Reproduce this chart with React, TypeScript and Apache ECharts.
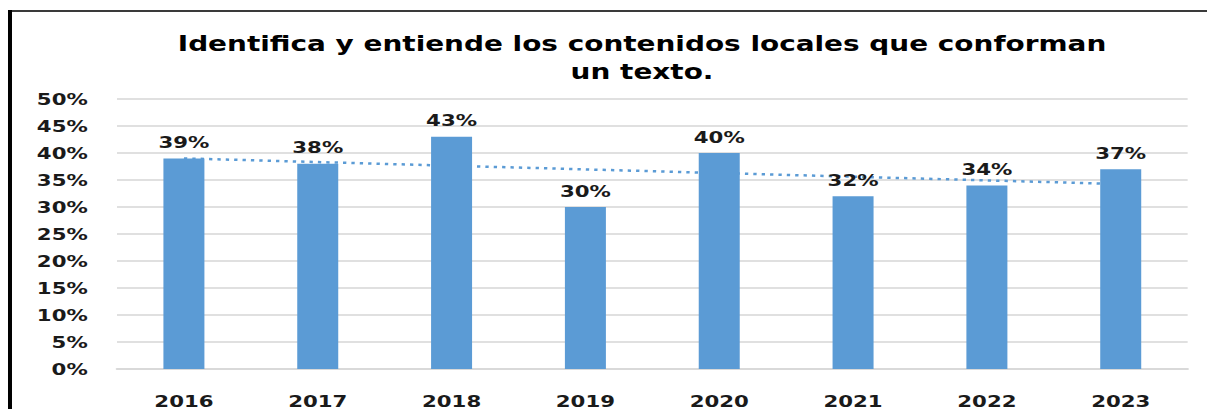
import React, { useEffect, useRef } from "react";
import * as echarts from "echarts";

const titleLines = ["Identifica y entiende los contenidos locales que conforman", "un texto."];
const categories = ["2016", "2017", "2018", "2019", "2020", "2021", "2022", "2023"];
const values = [0.39, 0.38, 0.43, 0.30, 0.40, 0.32, 0.34, 0.37];
const yTicks = { min: 0, max: 0.5, interval: 0.05 };

// Linear trend line (least squares) derived from the bar values, like Excel's trendline
function linearTrend(ys: number[]): number[] {
  const n = ys.length;
  const mx = (n - 1) / 2;
  const my = ys.reduce((a, b) => a + b, 0) / n;
  let sxy = 0, sxx = 0;
  ys.forEach((y, i) => { sxy += (i - mx) * (y - my); sxx += (i - mx) * (i - mx); });
  const slope = sxy / sxx;
  return ys.map((_, i) => my + slope * (i - mx));
}

const SX = 1.33; // the reference image is horizontally stretched
const W = 1207 / SX;
const H = 409;

const FONT = "'DejaVu Sans', Verdana, sans-serif";

export default function App() {
  const ref = useRef<HTMLDivElement>(null);
  useEffect(() => {
    if (!ref.current) return;
    const chart = echarts.init(ref.current, undefined, { renderer: "svg" });
    const pct = (v: number) => Math.round(v * 100) + "%";
    chart.setOption({
      animation: false,
      backgroundColor: "#ffffff",
      title: {
        text: titleLines.join("\n"),
        left: 642 / SX,
        top: 30,
        padding: 0,
        textAlign: "center",
        textStyle: {
          fontFamily: FONT,
          fontWeight: "bold",
          fontSize: 21,
          lineHeight: 28,
          color: "#000000",
        },
      },
      graphic: [
        { type: "rect", shape: { x: 8 / SX, y: 10, width: W, height: 2 }, style: { fill: "#3a3a3a" } },
        { type: "rect", shape: { x: 8 / SX, y: 10, width: 4 / SX, height: H }, style: { fill: "#000000" } },
      ],
      grid: { left: 117 / SX, right: W - 1187 / SX, top: 99, bottom: H - 369, containLabel: false },
      xAxis: {
        type: "category",
        data: categories,
        axisLine: { show: true, lineStyle: { color: "#d9d9d9", width: 2 } },
        axisTick: { show: false },
        axisLabel: {
          margin: 24,
          fontFamily: FONT,
          fontWeight: "bold",
          fontSize: 16,
          color: "#1a1a1a",
        },
      },
      yAxis: {
        type: "value",
        min: yTicks.min,
        max: yTicks.max,
        interval: yTicks.interval,
        axisLine: { show: false },
        axisTick: { show: false },
        splitLine: { lineStyle: { color: "#e0e0e0", width: 2 } },
        axisLabel: {
          margin: 22,
          fontFamily: FONT,
          fontWeight: "bold",
          fontSize: 16,
          color: "#1a1a1a",
          formatter: (v: number) => pct(v),
        },
      },
      series: [
        {
          type: "line",
          data: linearTrend(values),
          symbol: "none",
          z: 1,
          lineStyle: { color: "#5b9bd5", width: 2.5, type: [2.5, 3.8] },
          silent: true,
        },
        {
          type: "bar",
          data: values,
          barWidth: 41 / SX,
          z: 3,
          itemStyle: { color: "#5b9bd5" },
          label: {
            show: true,
            position: "top",
            distance: 8,
            fontFamily: FONT,
            fontWeight: "bold",
            fontSize: 16,
            color: "#1a1a1a",
            formatter: (p: any) => pct(p.value),
          },
        },
      ],
    });
    return () => chart.dispose();
  }, []);
  return (
    <div
      style={{
        position: "fixed",
        left: 0,
        top: 0,
        width: 1207,
        height: H,
        overflow: "hidden",
        background: "#ffffff",
      }}
    >
      <div
        ref={ref}
        style={{
          width: W,
          height: H,
          transform: `scaleX(${SX})`,
          transformOrigin: "0 0",
        }}
      />
    </div>
  );
}
